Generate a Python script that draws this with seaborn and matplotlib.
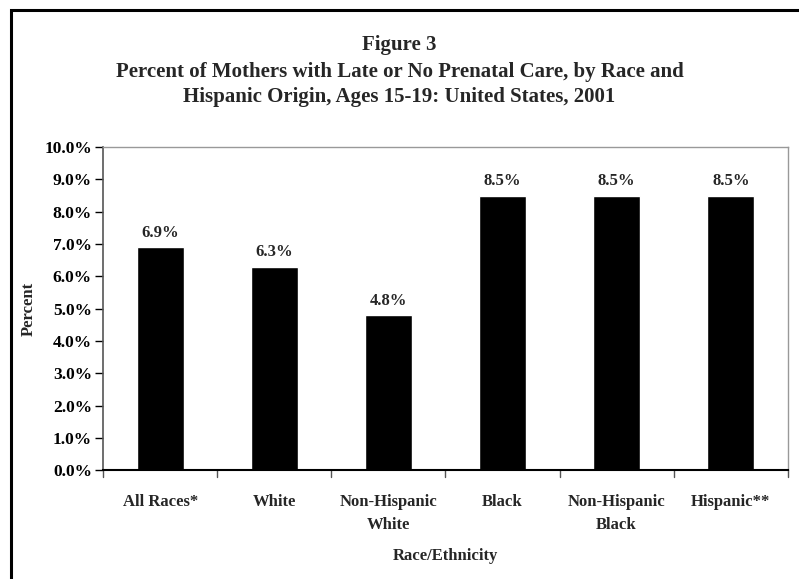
import matplotlib
matplotlib.use('Agg')
import matplotlib.pyplot as plt
import numpy as np
import pandas as pd
import seaborn as sns
from matplotlib.patches import Rectangle

categories = ['All Races*', 'White', 'Non-Hispanic\nWhite', 'Black', 'Non-Hispanic\nBlack', 'Hispanic**']
values = [6.9, 6.3, 4.8, 8.5, 8.5, 8.5]
value_labels = ['6.9%', '6.3%', '4.8%', '8.5%', '8.5%', '8.5%']

sns.set_style('white')
plt.rcParams['font.family'] = ['Liberation Serif', 'DejaVu Serif']
plt.rcParams['font.weight'] = 'bold'

df = pd.DataFrame({'Race/Ethnicity': categories, 'Percent': values})

fig = plt.figure(figsize=(7.99, 5.79), dpi=100)
ax = fig.add_axes([0.129, 0.188, 0.857, 0.558])
sns.barplot(data=df, x='Race/Ethnicity', y='Percent', color='black', saturation=1,
            width=0.41, ax=ax)

ax.set_ylim(0, 10)
ax.set_xlim(-0.5, len(categories) - 0.5)
ax.set_yticks(np.arange(0, 10.01, 1))
ax.set_yticklabels([f'{v:.1f}%' for v in np.arange(0, 10.01, 1)], fontsize=12.5, fontweight='bold')
ax.set_xticks(np.arange(len(categories)))
ax.set_xticklabels(categories, fontsize=12, fontweight='bold', linespacing=1.6)
ax.tick_params(axis='x', length=0, pad=17)
ax.tick_params(axis='y', length=6, width=1, direction='out', left=True, pad=2, colors='black')

# category separator ticks on the x axis
for xb in np.arange(-0.5, len(categories), 1.0):
    ax.plot([xb, xb], [0, -0.2], color='#555555', lw=1, clip_on=False)

for i, (v, lab) in enumerate(zip(values, value_labels)):
    ax.text(i, v + 0.2, lab, ha='center', va='bottom', fontsize=12, fontweight='bold')

for side in ['top', 'right']:
    ax.spines[side].set_color('#999999')
    ax.spines[side].set_linewidth(1)
ax.spines['left'].set_color('#555555')
ax.spines['left'].set_linewidth(1.2)
ax.spines['bottom'].set_color('black')
ax.spines['bottom'].set_linewidth(1.5)

ax.set_xlabel('Race/Ethnicity', fontsize=12, fontweight='bold', labelpad=11)
ax.set_ylabel('Percent', fontsize=12, fontweight='bold')
ax.yaxis.set_label_coords(-0.097, 0.5)

fig.text(0.5, 0.922, 'Figure 3', ha='center', va='center', fontsize=15, fontweight='bold')
fig.text(0.5, 0.876, 'Percent of Mothers with Late or No Prenatal Care, by Race and',
         ha='center', va='center', fontsize=15, fontweight='bold')
fig.text(0.5, 0.833, 'Hispanic Origin, Ages 15-19: United States, 2001',
         ha='center', va='center', fontsize=15, fontweight='bold')

fig.patches.append(Rectangle((0.0138, -0.05), 1.1, 1.0328, transform=fig.transFigure,
                             fill=False, edgecolor='black', linewidth=2.2))

plt.savefig('out.png', dpi=100)
